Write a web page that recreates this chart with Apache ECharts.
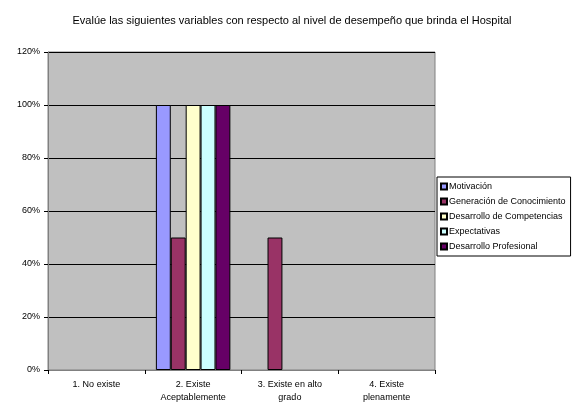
<!DOCTYPE html>
<html>
<head>
<meta charset="utf-8">
<script src="https://cdn.jsdelivr.net/npm/echarts@6/dist/echarts.min.js"></script>
<style>
  html, body { margin: 0; padding: 0; background: #fff; }
  #chart { width: 575px; height: 404px; }
</style>
</head>
<body>
<div id="chart"></div>
<script>
var categories = ['1. No existe', '2. Existe\nAceptablemente', '3. Existe en alto\ngrado', '4. Existe\nplenamente']
var seriesNames = ['Motivación', 'Generación de Conocimiento', 'Desarrollo de Competencias', 'Expectativas', 'Desarrollo Profesional']
var motivacion = [0, 100, 0, 0]
var generacion = [0, 50, 50, 0]
var competencias = [0, 100, 0, 0]
var expectativas = [0, 100, 0, 0]
var profesional = [0, 100, 0, 0]
var colors = ['#9999FF', '#993366', '#FFFFCC', '#CCFFFF', '#660066']

var values = [motivacion, generacion, competencias, expectativas, profesional]
var font = 'Liberation Sans, Arial, sans-serif'

var chart = echarts.init(document.getElementById('chart'))
chart.setOption({
  animation: false,
  title: {
    text: 'Evalúe las siguientes variables con respecto al nivel de desempeño que brinda el Hospital',
    left: 287,
    textAlign: 'center',
    top: 10,
    textStyle: { fontFamily: font, fontSize: 11, fontWeight: 'normal', color: '#000' }
  },
  grid: {
    left: 48,
    right: 140,
    top: 52,
    bottom: 34,
    show: true,
    backgroundColor: '#C0C0C0',
    borderColor: '#808080',
    borderWidth: 1
  },
  legend: {
    orient: 'vertical',
    left: 437,
    top: 177,
    itemWidth: 6,
    itemHeight: 6,
    itemGap: 6,
    padding: [5, 5, 5, 3],
    backgroundColor: '#fff',
    borderColor: '#000',
    borderWidth: 1,
    borderRadius: 0,
    icon: 'rect',
    textStyle: { fontFamily: font, fontSize: 9, color: '#000', padding: [0, 0, 0, -3] },
    data: seriesNames
  },
  xAxis: {
    type: 'category',
    data: categories,
    axisLine: { lineStyle: { color: '#808080' } },
    axisTick: { show: true, length: 4, lineStyle: { color: '#000' } },
    axisLabel: { fontFamily: font, fontSize: 9, color: '#000', margin: 8, lineHeight: 13 }
  },
  yAxis: {
    type: 'value',
    min: 0,
    max: 120,
    interval: 20,
    axisLine: { show: true, lineStyle: { color: '#808080' } },
    axisTick: { show: true, length: 4, lineStyle: { color: '#000' } },
    axisLabel: { fontFamily: font, fontSize: 9, color: '#000', margin: 8, formatter: '{value}%' },
    splitLine: { lineStyle: { color: '#000', width: 1 } }
  },
  series: seriesNames.map(function (name, i) {
    return {
      name: name,
      type: 'bar',
      // zero bars get no outline, so no stray line sits on the baseline
      data: values[i].map(function (v) {
        return v === 0 ? { value: v, itemStyle: { borderWidth: 0 } } : v
      }),
      barGap: '0%',
      barCategoryGap: '23%',
      itemStyle: { color: colors[i], borderColor: '#000', borderWidth: 1 }
    }
  })
})
</script>
</body>
</html>
